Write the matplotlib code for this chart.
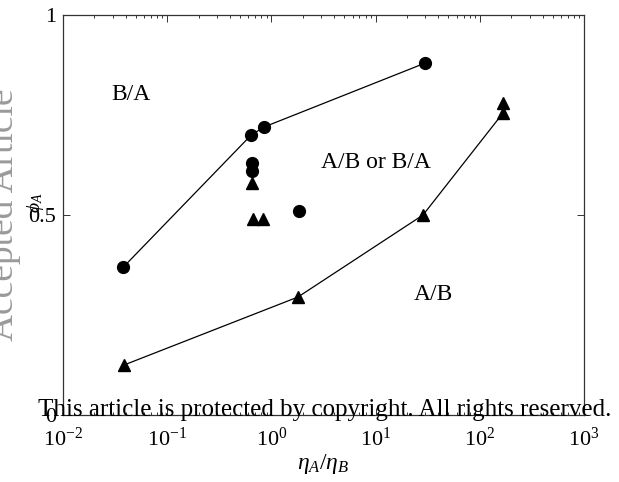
import matplotlib
matplotlib.use("Agg")
import matplotlib.pyplot as plt
from matplotlib.ticker import LogLocator, NullFormatter

plt.rcParams['font.family'] = ['Liberation Serif', 'DejaVu Serif']
plt.rcParams['mathtext.fontset'] = 'custom'
plt.rcParams['mathtext.rm'] = 'Liberation Serif'
plt.rcParams['mathtext.it'] = 'Liberation Serif:italic'

# Upper boundary (B/A region), circles joined by a line
upper_ratio = [0.038, 0.64, 0.85, 30.0]
upper_phi = [0.37, 0.70, 0.72, 0.88]

# Lower boundary (A/B region), triangles joined by a line
lower_ratio = [0.0385, 1.8, 28.5, 167.0, 167.0]
lower_phi = [0.125, 0.295, 0.50, 0.755, 0.78]

# Individual points inside the mixed region
extra_circle_ratio = [0.65, 0.65, 1.84]
extra_circle_phi = [0.63, 0.61, 0.51]
extra_tri_ratio = [0.65, 0.66, 0.83]
extra_tri_phi = [0.58, 0.49, 0.49]

xtick_vals = [1e-2, 1e-1, 1e0, 1e1, 1e2, 1e3]
xtick_labels = [r'$\mathregular{10^{-2}}$', r'$\mathregular{10^{-1}}$', r'$\mathregular{10^{0}}$',
                r'$\mathregular{10^{1}}$', r'$\mathregular{10^{2}}$', r'$\mathregular{10^{3}}$']
ytick_vals = [0, 0.5, 1]
ytick_labels = ['0', '0.5', '1']

fig = plt.figure(figsize=(6.19, 4.82), dpi=100)
ax = fig.add_axes([0.1018, 0.139, 0.8417, 0.8299])

ax.plot(upper_ratio, upper_phi, color='black', lw=0.9, marker='o', ms=8.5,
        mfc='black', mec='black')
ax.plot(lower_ratio, lower_phi, color='black', lw=0.9, marker='^', ms=9,
        mfc='black', mec='black')
ax.plot(extra_circle_ratio, extra_circle_phi, ls='none', marker='o', ms=8.5,
        color='black')
ax.plot(extra_tri_ratio, extra_tri_phi, ls='none', marker='^', ms=9,
        color='black')

ax.set_xscale('log')
ax.set_xlim(1e-2, 1e3)
ax.set_ylim(0, 1)
ax.set_xticks(xtick_vals)
ax.set_xticklabels(xtick_labels)
ax.xaxis.set_minor_locator(LogLocator(base=10, subs=range(2, 10)))
ax.xaxis.set_minor_formatter(NullFormatter())
ax.set_yticks(ytick_vals)
ax.set_yticklabels(ytick_labels)

ax.tick_params(which='both', direction='in', top=True, right=True,
               labelsize=16, width=0.7, color='#333333')
ax.tick_params(axis='x', which='major', length=5, pad=9)
ax.tick_params(axis='y', which='major', length=5, pad=5)
ax.tick_params(which='minor', length=2.5)
for s in ax.spines.values():
    s.set_linewidth(0.9)
    s.set_color('#333333')

ax.set_xlabel(r'$\eta_A/\eta_B$', fontsize=17, labelpad=1)
ax.set_ylabel(r'$\phi_A$', fontsize=14)
ax.yaxis.set_label_coords(-0.033, 0.53)

ax.text(0.13, 0.80, 'B/A', transform=ax.transAxes, fontsize=17, ha='center', va='center')
ax.text(0.60, 0.63, 'A/B or B/A', transform=ax.transAxes, fontsize=17, ha='center', va='center')
ax.text(0.71, 0.30, 'A/B', transform=ax.transAxes, fontsize=17, ha='center', va='center')

fig.text(-0.022, 0.555, 'Accepted Article', rotation=90, fontsize=27, color='#9a9a9a',
         ha='left', va='center', family='Liberation Serif')
fig.text(0.525, 0.149, 'This article is protected by copyright. All rights reserved.',
         fontsize=18, color='black', ha='center', va='center', family='Liberation Serif')

fig.savefig('out.png', dpi=100)
